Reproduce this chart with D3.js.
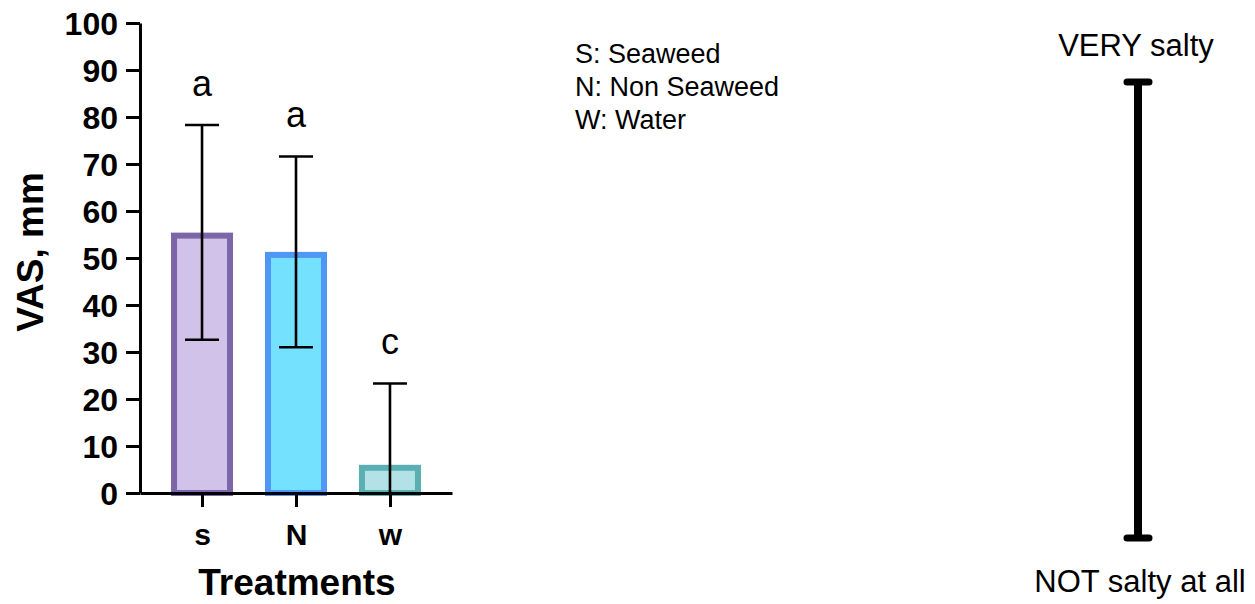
<!DOCTYPE html>
<html>
<head>
<meta charset="utf-8">
<style>
  body { margin: 0; background: #fff; }
  svg text { font-family: "Liberation Sans", Arial, sans-serif; }
</style>
</head>
<body>
<div id="chart"></div>
<script src="https://d3js.org/d3.v7.min.js"></script>
<script>
// values
var treatments = ["s", "N", "w"];
var means = [55.4, 51.3, 6.0];
var upper = [78.3, 71.6, 23.3];
var lower = [32.6, 31.0, 0];
var letters = ["a", "a", "c"];
var fills = ["#d0c2e8", "#74e1fe", "#b2e2e6"];
var strokes = ["#7d66a8", "#4f96f5", "#5bafb3"];
var yTicks = [0, 10, 20, 30, 40, 50, 60, 70, 80, 90, 100];
var legendLines = ["S: Seaweed", "N: Non Seaweed", "W: Water"];
var scaleEnds = ["VERY salty", "NOT salty at all"];

var W = 1255, H = 604;
var svg = d3.select("#chart").append("svg")
    .attr("width", W).attr("height", H);

var x = d3.scalePoint().domain(treatments).range([140, 452]).padding(0.66);
var y = d3.scaleLinear().domain([0, 100]).range([493, 23]);
var barW = 62, bw = 6;

// bars (stroke drawn inside the outline)
svg.append("g").selectAll("rect")
  .data(treatments)
  .enter().append("rect")
    .attr("x", function(d) { return x(d) - barW / 2 + bw / 2; })
    .attr("y", function(d, i) { return y(means[i]) + bw / 2; })
    .attr("width", barW - bw)
    .attr("height", function(d, i) { return y(0) - y(means[i]) - bw / 2; })
    .style("fill", function(d, i) { return fills[i]; })
    .style("stroke", function(d, i) { return strokes[i]; })
    .style("stroke-width", bw);

// error bars
var eb = svg.append("g").style("stroke", "#000").style("stroke-width", 2.6);
treatments.forEach(function(d, i) {
  eb.append("line")
    .attr("x1", x(d)).attr("x2", x(d))
    .attr("y1", y(upper[i])).attr("y2", y(lower[i]));
  eb.append("line")
    .attr("x1", x(d) - 17).attr("x2", x(d) + 17)
    .attr("y1", y(upper[i])).attr("y2", y(upper[i]));
  if (lower[i] > 0) {
    eb.append("line")
      .attr("x1", x(d) - 17).attr("x2", x(d) + 17)
      .attr("y1", y(lower[i])).attr("y2", y(lower[i]));
  }
});

// significance letters
svg.append("g").selectAll("text")
  .data(treatments)
  .enter().append("text")
    .attr("x", function(d) { return x(d); })
    .attr("y", function(d, i) { return y(upper[i]) - 29; })
    .attr("text-anchor", "middle")
    .style("font-size", "36px")
    .text(function(d, i) { return letters[i]; });

// y axis
var yAxis = svg.append("g")
    .attr("transform", "translate(140,0)")
    .call(d3.axisLeft(y).tickValues(yTicks).tickSize(14).tickSizeOuter(0).tickPadding(8));
yAxis.selectAll("text").style("font-size", "32px").style("font-weight", "bold").attr("dy", "0.35em");

// x axis
var xAxis = svg.append("g")
    .attr("transform", "translate(0,493)")
    .call(d3.axisBottom(x).tickSize(14).tickSizeOuter(0).tickPadding(17));
xAxis.selectAll("text").style("font-size", "30px").style("font-weight", "bold");

svg.selectAll(".domain").style("stroke-width", 3).style("stroke", "#000");
svg.selectAll(".tick line").style("stroke-width", 3).style("stroke", "#000");
svg.selectAll(".tick text").style("fill", "#000");

// axis titles
svg.append("text")
    .attr("transform", "translate(43,252) rotate(-90)")
    .attr("text-anchor", "middle")
    .style("font-size", "37px").style("font-weight", "bold")
    .text("VAS, mm");

svg.append("text")
    .attr("x", 297).attr("y", 595)
    .attr("text-anchor", "middle")
    .style("font-size", "37px").style("font-weight", "bold")
    .text("Treatments");

// legend text
svg.append("g").selectAll("text")
  .data(legendLines)
  .enter().append("text")
    .attr("x", 575)
    .attr("y", function(d, i) { return 63 + i * 33; })
    .style("font-size", "27px")
    .text(function(d) { return d; });

// VAS scale on the right
var vas = d3.scaleLinear().domain([0, 100]).range([538, 82]);
var sx = 1138;
var sg = svg.append("g").style("stroke", "#000").style("stroke-linecap", "round");
sg.append("line").attr("x1", sx).attr("x2", sx).attr("y1", vas(0)).attr("y2", vas(100))
  .style("stroke-width", 8).style("stroke-linecap", "butt");
[0, 100].forEach(function(v) {
  sg.append("line").attr("x1", sx - 11).attr("x2", sx + 11)
    .attr("y1", vas(v)).attr("y2", vas(v)).style("stroke-width", 7);
});

svg.append("text").attr("x", 1136).attr("y", 56)
    .attr("text-anchor", "middle").style("font-size", "31px").text(scaleEnds[0]);
svg.append("text").attr("x", 1140).attr("y", 592)
    .attr("text-anchor", "middle").style("font-size", "31px").text(scaleEnds[1]);
</script>
</body>
</html>
